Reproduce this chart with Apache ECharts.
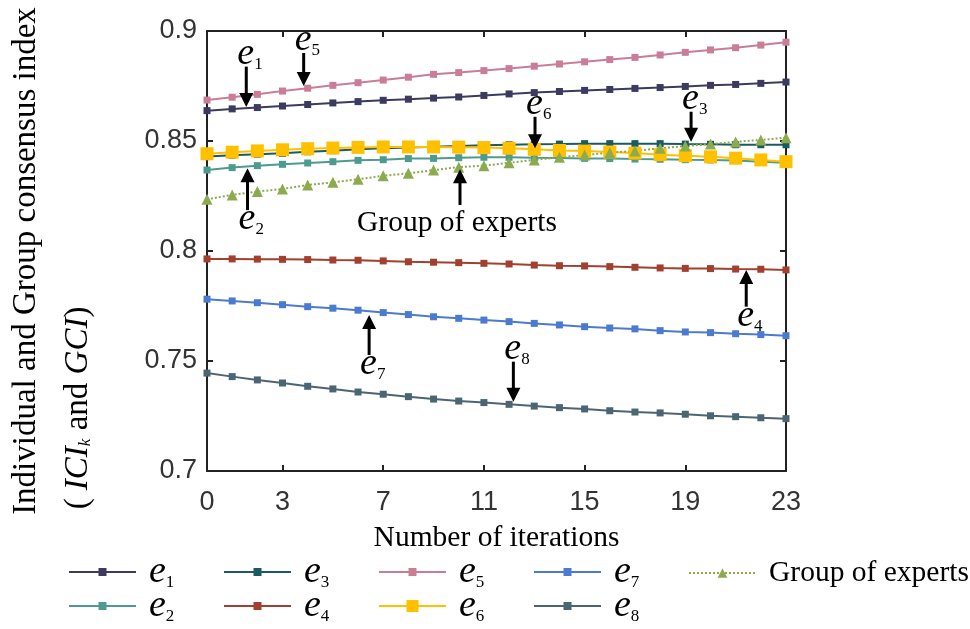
<!DOCTYPE html>
<html>
<head>
<meta charset="utf-8">
<script src="https://cdn.jsdelivr.net/npm/echarts@6/dist/echarts.min.js"></script>
<style>
  html, body { margin: 0; padding: 0; background: #fff; }
  #main { width: 970px; height: 629px; }
</style>
</head>
<body>
<div id="main"></div>
<script>
var iterations = [0, 1, 2, 3, 4, 5, 6, 7, 8, 9, 10, 11, 12, 13, 14, 15, 16, 17, 18, 19, 20, 21, 22, 23];
var xTickLabels = [0, 3, 7, 11, 15, 19, 23];
var xInnerTicks = [3, 7, 11, 15, 19];

var e1 = [0.8638, 0.8646, 0.8652, 0.8659, 0.8666, 0.8673, 0.8679, 0.8685, 0.8690, 0.8695, 0.8700, 0.8707,
          0.8714, 0.8720, 0.8725, 0.8730, 0.8734, 0.8739, 0.8743, 0.8748, 0.8753, 0.8757, 0.8762, 0.8768];
var e2 = [0.8368, 0.8379, 0.8388, 0.8394, 0.8400, 0.8406, 0.8412, 0.8415, 0.8420, 0.8421, 0.8424, 0.8426,
          0.8426, 0.8424, 0.8423, 0.8421, 0.8420, 0.8418, 0.8417, 0.8415, 0.8414, 0.8411, 0.8406, 0.8401];
var e3 = [0.8429, 0.8435, 0.8440, 0.8444, 0.8451, 0.8456, 0.8462, 0.8467, 0.8470, 0.8474, 0.8477, 0.8481,
          0.8483, 0.8485, 0.8486, 0.8488, 0.8488, 0.8488, 0.8488, 0.8486, 0.8485, 0.8483, 0.8483, 0.8483];
var e4 = [0.7964, 0.7964, 0.7963, 0.7962, 0.7961, 0.7959, 0.7958, 0.7955, 0.7951, 0.7949, 0.7947, 0.7944,
          0.7941, 0.7936, 0.7933, 0.7932, 0.7929, 0.7926, 0.7923, 0.7921, 0.7920, 0.7918, 0.7917, 0.7914];
var e5 = [0.8686, 0.8699, 0.8712, 0.8727, 0.8740, 0.8753, 0.8765, 0.8777, 0.8790, 0.8803, 0.8811, 0.8820,
          0.8829, 0.8840, 0.8850, 0.8860, 0.8870, 0.8880, 0.8891, 0.8903, 0.8914, 0.8924, 0.8936, 0.8949];
var e6 = [0.8442, 0.8449, 0.8455, 0.8460, 0.8465, 0.8468, 0.8471, 0.8473, 0.8473, 0.8473, 0.8472, 0.8470,
          0.8467, 0.8462, 0.8457, 0.8454, 0.8450, 0.8445, 0.8438, 0.8433, 0.8428, 0.8422, 0.8414, 0.8406];
var e7 = [0.7781, 0.7773, 0.7765, 0.7756, 0.7747, 0.7740, 0.7731, 0.7720, 0.7711, 0.7701, 0.7694, 0.7686,
          0.7679, 0.7671, 0.7664, 0.7656, 0.7650, 0.7646, 0.7638, 0.7632, 0.7629, 0.7624, 0.7620, 0.7615];
var e8 = [0.7445, 0.7429, 0.7414, 0.7400, 0.7385, 0.7373, 0.7359, 0.7349, 0.7338, 0.7327, 0.7318, 0.7311,
          0.7303, 0.7295, 0.7288, 0.7282, 0.7274, 0.7268, 0.7264, 0.7258, 0.7251, 0.7247, 0.7242, 0.7238];
var groupExperts = [0.8235, 0.8255, 0.8270, 0.8282, 0.8300, 0.8312, 0.8326, 0.8342, 0.8353, 0.8368, 0.8381, 0.8388,
          0.8401, 0.8414, 0.8426, 0.8436, 0.8447, 0.8455, 0.8467, 0.8477, 0.8486, 0.8496, 0.8505, 0.8515];

var seriesNames = ['e1', 'e2', 'e3', 'e4', 'e5', 'e6', 'e7', 'e8', 'Group of experts'];
var seriesValues = [e1, e2, e3, e4, e5, e6, e7, e8, groupExperts];
var colors = ['#3b3a5f', '#4d9b8e', '#1b5a60', '#a33f2f', '#c97e95', '#ffc000', '#4a7bd0', '#4b6672', '#8cab4f'];

// arrow annotations: label, x position (iteration), from value, to value (tip)
var arrowLabels = ['1', '5', '2', 'Group of experts', '6', '3', '4', '7', '8'];
var arrowX = [1.56, 3.84, 1.61, 10.05, 13.03, 19.23, 21.42, 6.44, 12.17];
var arrowFrom = [0.8838, 0.8900, 0.8186, 0.8209, 0.8610, 0.8633, 0.7747, 0.7527, 0.7497];
var arrowTo = [0.8655, 0.8750, 0.8376, 0.8372, 0.8467, 0.8497, 0.7914, 0.7709, 0.7315];

var serif = 'Liberation Serif';
var sans = 'Liberation Sans';
var richE = {
  e: { fontFamily: serif, fontStyle: 'italic', fontSize: 38, lineHeight: 38, padding: [0, 0, 2, 0], verticalAlign: 'top', color: '#000' },
  s: { fontFamily: serif, fontSize: 17, lineHeight: 17, verticalAlign: 'bottom', color: '#000' }
};

var chart = echarts.init(document.getElementById('main'));

var axisLineStyle = { color: '#222', width: 2 };

var series = seriesNames.map(function (name, i) {
  var isGroup = name === 'Group of experts';
  return {
    name: name,
    type: 'line',
    data: iterations.map(function (x, j) { return [x, seriesValues[i][j]]; }),
    symbol: isGroup ? 'triangle' : 'rect',
    symbolSize: name === 'e6' ? 13 : (isGroup ? 11 : 7),
    lineStyle: { width: 2, color: colors[i], type: isGroup ? 'dotted' : 'solid' },
    itemStyle: { color: colors[i] },
    emphasis: { disabled: true },
    animation: false
  };
});

// legend: 2 rows, one legend per item so the columns line up
var legendRows = [['e1', 'e3', 'e5', 'e7', 'Group of experts'], ['e2', 'e4', 'e6', 'e8']];
var legends = [];
legendRows.forEach(function (row, r) {
  row.forEach(function (name, c) {
    var isGroup = name === 'Group of experts';
    legends.push({
      data: [name],
      left: 68 + c * 155,
      top: r === 0 ? (isGroup ? 558 : 553) : 587,
      padding: 0,
      itemWidth: 67,
      itemHeight: name === 'e6' ? 15 : (isGroup ? 12 : 10),
      selectedMode: false,
      formatter: function (n) {
        return n === 'Group of experts' ? n : '{e|e}{s|' + n.slice(1) + '}';
      },
      textStyle: { fontFamily: serif, fontSize: 29.5, color: '#000', padding: [0, 0, 0, 8], rich: richE }
    });
  });
});

chart.setOption({
  animation: false,
  grid: { left: 207, right: 184, top: 31, bottom: 158, outerBoundsMode: 'none', containLabel: false },
  legend: legends,
  xAxis: [{
    type: 'value', min: 0, max: 23, position: 'bottom',
    axisLine: { show: true, onZero: false, lineStyle: axisLineStyle },
    axisTick: { show: true, inside: true, length: 6, customValues: xInnerTicks, lineStyle: axisLineStyle },
    axisLabel: { customValues: xTickLabels, fontFamily: sans, fontSize: 27, color: '#333', margin: 18 },
    splitLine: { show: false },
    name: 'Number of iterations', nameLocation: 'middle', nameGap: 52,
    nameTextStyle: { fontFamily: serif, fontSize: 29.5, color: '#000' }
  }, {
    type: 'value', min: 0, max: 23, position: 'top',
    axisLine: { show: true, onZero: false, lineStyle: axisLineStyle },
    axisTick: { show: true, inside: true, length: 6, customValues: xInnerTicks, lineStyle: axisLineStyle },
    axisLabel: { show: false },
    splitLine: { show: false }
  }],
  yAxis: [{
    type: 'value', min: 0.7, max: 0.9, interval: 0.05, position: 'left',
    axisLine: { show: true, onZero: false, lineStyle: axisLineStyle },
    axisTick: { show: true, inside: true, length: 6, lineStyle: axisLineStyle },
    axisLabel: { fontFamily: sans, fontSize: 27, color: '#333', margin: 10, padding: [4, 0, 0, 0] },
    splitLine: { show: false }
  }, {
    type: 'value', min: 0.7, max: 0.9, interval: 0.05, position: 'right',
    axisLine: { show: true, onZero: false, lineStyle: axisLineStyle },
    axisTick: { show: true, inside: true, length: 6, lineStyle: axisLineStyle },
    axisLabel: { show: false },
    splitLine: { show: false }
  }],
  series: series
});

// axis title (two rotated lines) and arrow annotations
var graphics = [{
  type: 'text', x: 26, y: 261, rotation: Math.PI / 2, z: 100,
  style: { text: 'Individual and Group consensus index', fontFamily: serif, fontSize: 33, fill: '#000', align: 'center', verticalAlign: 'middle' }
}, {
  type: 'text', x: 78, y: 408, rotation: Math.PI / 2, z: 100,
  style: {
    text: '{n|( }{i|ICI}{k|k}{n| and }{i|GCI}{n|)}',
    align: 'center', verticalAlign: 'middle',
    rich: {
      n: { fontFamily: serif, fontSize: 33, lineHeight: 33, padding: [0, 0, 4, 0], verticalAlign: 'top', color: '#000' },
      i: { fontFamily: serif, fontStyle: 'italic', fontSize: 33, lineHeight: 33, padding: [0, 0, 4, 0], verticalAlign: 'top', color: '#000' },
      k: { fontFamily: serif, fontStyle: 'italic', fontSize: 17, lineHeight: 17, verticalAlign: 'bottom', color: '#000' }
    }
  }
}];

arrowX.forEach(function (x, i) {
  var a = chart.convertToPixel({ gridIndex: 0 }, [x, arrowFrom[i]]);
  var b = chart.convertToPixel({ gridIndex: 0 }, [x, arrowTo[i]]);
  var dir = b[1] > a[1] ? 1 : -1;
  var head = 14;
  graphics.push({
    type: 'line', z: 100,
    shape: { x1: a[0], y1: a[1], x2: b[0], y2: b[1] - dir * (head - 2) },
    style: { stroke: '#000', lineWidth: 3 }
  });
  graphics.push({
    type: 'polygon', z: 100,
    shape: { points: [[b[0], b[1]], [b[0] - 7, b[1] - dir * head], [b[0] + 7, b[1] - dir * head]] },
    style: { fill: '#000' }
  });
  if (arrowLabels[i] === 'Group of experts') {
    graphics.push({
      type: 'text', x: a[0] - 3, y: a[1] + 18, z: 100,
      style: { text: arrowLabels[i], fontFamily: serif, fontSize: 29.5, fill: '#000', align: 'center', verticalAlign: 'middle' }
    });
  } else {
    graphics.push({
      type: 'text', x: a[0] - 9, y: dir === 1 ? a[1] + 6 : a[1] - 10, z: 100,
      style: {
        text: '{e|e}{s|' + arrowLabels[i] + '}',
        align: 'left', verticalAlign: dir === 1 ? 'bottom' : 'top',
        rich: richE
      }
    });
  }
});

chart.setOption({ graphic: graphics });
</script>
</body>
</html>
